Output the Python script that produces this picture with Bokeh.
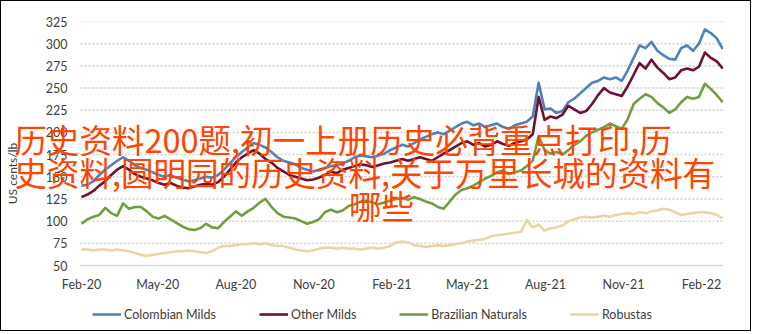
import pandas as pd
from datetime import datetime, timedelta
from bokeh.plotting import figure
from bokeh.models import Range1d, FixedTicker, Label, Legend, LegendItem, ColumnDataSource
from bokeh.embed import file_html
from bokeh.resources import INLINE

# ---------------- data (US cents/lb, weekly readings) ----------------
start_date = "2020-02-01"
n_weeks = 109

colombian_milds = [
    140, 141, 145, 152, 158, 163, 168, 172, 168, 163,
    160, 158, 155, 152, 150, 152, 149, 147, 145, 146,
    148, 150, 149, 152, 158, 165, 172, 178, 183, 188,
    186, 183, 178, 172, 168, 166, 164, 160, 158, 156,
    158, 160, 162, 163, 165, 168, 172, 174, 173, 172,
    174, 176, 180, 183, 186, 184, 188, 192, 195, 198,
    200, 198, 202, 206, 210, 212, 208, 210, 206, 208,
    210, 206, 204, 208, 210, 212, 218, 256, 226, 227,
    222, 224, 234, 238, 244, 250, 256, 258, 262, 260,
    262, 258, 270, 284, 298, 295, 302, 292, 287, 283,
    282, 295, 298, 292, 300, 316, 312, 306, 294,
]
other_milds = [
    127, 130, 134, 140, 145, 152, 158, 162, 158, 153,
    150, 148, 146, 143, 141, 143, 140, 138, 137, 139,
    141, 142, 141, 144, 150, 158, 166, 172, 176, 180,
    176, 170, 166, 160, 156, 152, 150, 148, 146, 147,
    149, 152, 156, 154, 158, 160, 162, 164, 163, 161,
    163, 165, 166, 168, 170, 168, 170, 172, 170, 168,
    172, 176, 180, 184, 188, 190, 186, 188, 184, 186,
    190, 187, 185, 188, 190, 192, 198, 240, 214, 218,
    216, 220, 230, 226, 222, 224, 232, 242, 250, 245,
    243, 241, 252, 265, 278, 272, 282, 273, 267, 260,
    262, 270, 272, 270, 274, 290, 284, 280, 272,
]
brazilian_naturals = [
    97, 102, 105, 107, 115, 109, 106, 120, 114, 116,
    116, 111, 105, 103, 106, 102, 98, 94, 91, 90,
    92, 97, 93, 92, 99, 105, 111, 106, 111, 115,
    121, 125, 116, 109, 105, 104, 103, 100, 97, 99,
    102, 110, 113, 110, 112, 117, 119, 122, 123, 121,
    119, 121, 123, 125, 126, 124, 127, 125, 122, 120,
    116, 114, 122, 130, 135, 137, 140, 144, 148, 151,
    155, 157, 153, 155, 157, 162, 168, 196, 180, 176,
    178, 175, 180, 186, 190, 196, 200, 203, 206, 210,
    207, 204, 215, 232, 238, 243, 240, 233, 228, 222,
    226, 234, 240, 238, 240, 255, 249, 242, 234,
]
robustas = [
    68, 68, 67, 68, 68, 67, 68, 67, 66, 64,
    62, 61, 62, 63, 64, 65, 66, 66, 67, 66,
    65, 64, 66, 70, 72, 72, 73, 74, 74, 75,
    74, 75, 73, 72, 72, 70, 68, 67, 66, 67,
    69, 70, 70, 69, 70, 69, 69, 68, 69, 70,
    69, 70, 72, 76, 77, 76, 73, 72, 71, 72,
    73, 72, 73, 74, 75, 77, 78, 79, 80, 83,
    84, 85, 86, 87, 88, 101, 93, 96, 89, 92,
    93, 95, 100, 102, 104, 105, 104, 105, 106, 105,
    107, 108, 109, 108, 110, 109, 111, 112, 114, 113,
    110, 107, 108, 109, 110, 110, 109, 107, 103,
]

series_names = ["Colombian Milds", "Other Milds", "Brazilian Naturals", "Robustas"]
series_colors = ["#4F81BD", "#6E1230", "#70A03E", "#EBD5A0"]

tick_dates = ["2020-02-01", "2020-05-01", "2020-08-01", "2020-11-01",
              "2021-02-01", "2021-05-01", "2021-08-01", "2021-11-01",
              "2022-02-01"]
tick_labels = ["Feb-20", "May-20", "Aug-20", "Nov-20",
               "Feb-21", "May-21", "Aug-21", "Nov-21", "Feb-22"]
y_ticks = [50, 75, 100, 125, 150, 175, 200, 225, 250, 275, 300, 325]

y_label = "US cents/lb"
overlay_lines = ["历史资料200题,初一上册历史必背重点打印,历",
                 "史资料,圆明园的历史资料,关于万里长城的资料有",
                 "哪些"]

# ---------------- layout constants (page pixels) ----------------
FRAME_L, FRAME_R = 14, 723
FRAME_T, FRAME_B = 21, 325
PLOT_L = 80                      # visible plot area starts here
FIRST_TICK_PX = 81               # page x of Feb-20
PX_PER_DAY = 620 / 731.0         # Feb-20 -> Feb-22 spans 620 px
BASE_PX = 265                    # page y of the 50 line
PX_PER_UNIT = 244 / 275.0        # 50 -> 325 spans 244 px
YLABEL_CENTER_PX = 138           # page y of the centre of the y-axis title

anchor = datetime(2020, 2, 1)
x_start = anchor - timedelta(days=(FIRST_TICK_PX - FRAME_L) / PX_PER_DAY)
x_end = anchor + timedelta(days=(FRAME_R - FIRST_TICK_PX) / PX_PER_DAY)
grid_start = anchor - timedelta(days=(FIRST_TICK_PX - PLOT_L) / PX_PER_DAY)
y_lo = y_ticks[0] - (FRAME_B - BASE_PX) / PX_PER_UNIT
y_hi = y_ticks[-1]
xaxis_loc = y_ticks[0] - (286 - BASE_PX) / PX_PER_UNIT
ylabel_val = y_ticks[0] + (BASE_PX - YLABEL_CENTER_PX) / PX_PER_UNIT

# ---------------- figure ----------------
dates = pd.date_range(start_date, periods=n_weeks, freq="7D")
src = ColumnDataSource(dict(date=dates, c=colombian_milds, o=other_milds,
                            b=brazilian_naturals, r=robustas))

FONT = "Lato"
p = figure(width=751, height=331, output_backend="svg", toolbar_location=None,
           x_axis_type="datetime",
           x_range=Range1d(x_start, x_end), y_range=Range1d(y_lo, y_hi),
           min_border_left=FRAME_L - 1, min_border_right=752 - FRAME_R,
           min_border_top=FRAME_T - 1, min_border_bottom=332 - FRAME_B)
p.styles = {"border": "1px solid black"}
p.outline_line_color = None
p.background_fill_color = "white"
p.border_fill_color = "white"

# horizontal gridlines across the plotted area only
grid_vals = y_ticks[1:]
p.segment(x0=[grid_start] * len(grid_vals), x1=[x_end] * len(grid_vals),
          y0=grid_vals, y1=grid_vals, line_color="#D0D0D0",
          line_width=1.5, line_dash="2 2")
p.segment(x0=[grid_start], x1=[x_end], y0=[y_ticks[0]], y1=[y_ticks[0]],
          line_color="#D9D9D9", line_width=1.5)

renderers = []
for col, color in zip(["c", "o", "b", "r"], series_colors):
    renderers.append(p.line("date", col, source=src, line_color=color,
                            line_width=2.6, line_join="round"))

# axes
tick_ms = [pd.Timestamp(d).value / 1e6 for d in tick_dates]
p.xaxis.ticker = FixedTicker(ticks=tick_ms)
p.xaxis.major_label_overrides = {t: l for t, l in zip(tick_ms, tick_labels)}
p.yaxis.ticker = FixedTicker(ticks=y_ticks)
for ax in (p.xaxis, p.yaxis):
    ax.axis_line_color = None
    ax.major_tick_line_color = None
    ax.minor_tick_line_color = None
    ax.major_tick_out = 0
    ax.major_tick_in = 0
    ax.minor_tick_out = 0
    ax.minor_tick_in = 0
    ax.major_label_text_font = FONT
    ax.major_label_text_font_size = "12.5px"
    ax.major_label_text_color = "#404040"
# x labels: axis drawn inside the frame, label tops ~11 px under the 50 line
p.xaxis.fixed_location = xaxis_loc
p.xaxis.major_label_standoff = -10
# y labels inside the widened frame, right-aligned 13 px left of the plot area
p.yaxis.major_label_standoff = -(PLOT_L - 13 - FRAME_L)
p.yaxis.bounds = (y_ticks[0], 2 * ylabel_val - y_ticks[0])
p.yaxis.axis_label = y_label
p.yaxis.axis_label_text_font = FONT
p.yaxis.axis_label_text_font_style = "normal"
p.yaxis.axis_label_text_font_size = "12px"
p.yaxis.axis_label_text_color = "#404040"
p.yaxis.axis_label_standoff = 23

p.xgrid.grid_line_color = None
p.ygrid.grid_line_color = None

# legend row inside the frame, under the axis labels
legend = Legend(items=[LegendItem(label=n, renderers=[r])
                       for n, r in zip(series_names, renderers)],
                location=(92 - FRAME_L, FRAME_B - 321.5), orientation="horizontal",
                glyph_width=29, glyph_height=14, label_height=14,
                label_standoff=3, spacing=43, padding=0, margin=0,
                border_line_color=None, background_fill_alpha=0,
                label_text_font=FONT, label_text_font_size="12.5px",
                label_text_color="#404040")
p.add_layout(legend)

# overlay title text (inside the frame)
ov_x = [15 - FRAME_L - 1, 15 - FRAME_L - 1, 350 - FRAME_L - 1.5]
ov_y = [FRAME_B - 137.5, FRAME_B - 170.5, FRAME_B - 203.5]
for txt, ox, oy in zip(overlay_lines, ov_x, ov_y):
    p.add_layout(Label(x=ox, y=oy, x_units="screen", y_units="screen", text=txt,
                       text_font="Noto Sans CJK SC", text_font_size="32.5px",
                       text_color="#FF4500", text_baseline="middle",
                       text_align="left"))

open("out.html", "w").write(file_html(p, INLINE))
